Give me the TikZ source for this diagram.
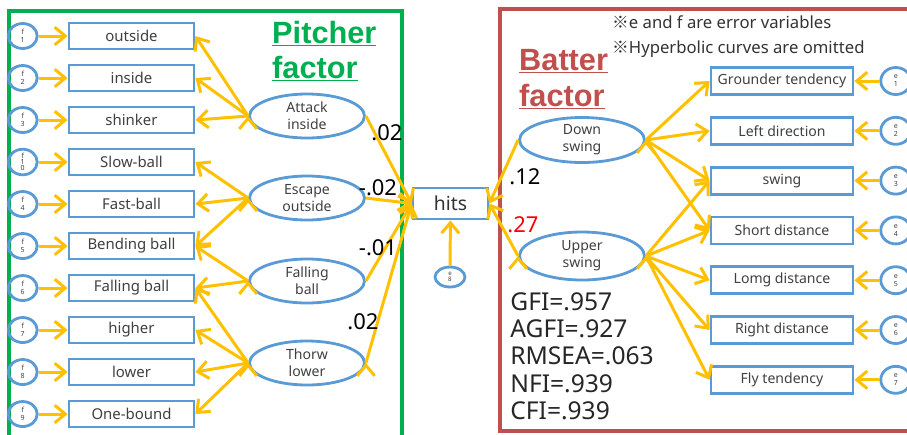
\documentclass[tikz,border=0pt]{standalone}
\usepackage{fontspec}
\setmainfont{Noto Sans}
\newfontfamily\jpfont{Noto Sans CJK JP}
\newfontfamily\titlefont{Liberation Sans}
\usetikzlibrary{positioning,arrows.meta,shapes.geometric}

\definecolor{obsblue}{HTML}{5B9BD5}
\definecolor{pathgold}{HTML}{FFC000}
\definecolor{pitchgreen}{HTML}{00B050}
\definecolor{batred}{HTML}{C0504D}
\definecolor{labgray}{HTML}{404040}

\begin{document}
\begin{tikzpicture}[
        x=0.02cm, y=-0.02cm,
        node distance=0.264cm and 0.58cm,
        obs/.style={rectangle, draw=obsblue, line width=1.6pt, minimum width=2.5cm, minimum height=0.52cm, inner sep=1pt, text=labgray, font=\fontsize{8.5}{9}\selectfont},
        robs/.style={obs, minimum width=2.84cm, minimum height=0.54cm, font=\fontsize{8}{9}\selectfont},
        latent/.style={ellipse, draw=obsblue, line width=1.6pt, minimum width=2.3cm, minimum height=0.88cm, inner sep=0pt, align=center, text=labgray, font=\fontsize{8}{9.5}\selectfont},
        err/.style={ellipse, draw=obsblue, line width=1.6pt, minimum width=0.58cm, minimum height=0.5cm, inner sep=0pt, align=center, text=labgray, font=\fontsize{4}{4.5}\selectfont},
        rerr/.style={err, minimum width=0.6cm, minimum height=0.54cm},
        title/.style={font=\titlefont\fontsize{17.5}{18}\bfseries, anchor=base west},
        link/.style={draw=pathgold, line width=1.7pt, -{Straight Barb[length=6pt, width=10pt]}},
        coef/.style={font=\fontsize{12.5}{12.5}\selectfont}]
    \useasboundingbox (0,0) rectangle (907,434);

    % frames of the two groups
    \draw[pitchgreen, line width=2.4pt] (9,11) rectangle (402,450);
    \draw[batred, line width=2.4pt] (500,9) rectangle (920,431);

    \node[title, text=pitchgreen] (ptitle) at (266,43) {\underline{Pitcher}};
    \node[title, text=pitchgreen] (ptitle2) at (266,78) {\underline{factor}};
    \node[title, text=batred] (btitle) at (513,70) {\underline{Batter}};
    \node[title, text=batred] (btitle2) at (513,106) {\underline{factor}};

    \node[anchor=west, font=\fontsize{9.5}{10}\selectfont, text=black!80] (note1) at (606,22) {{\jpfont ※}e and f are error variables};
    \node[anchor=west, font=\fontsize{9.5}{10}\selectfont, text=black!80] (note2) at (606,49) {{\jpfont ※}Hyperbolic curves are omitted};

    % pitcher side: observed variables
    \node[obs] (outside) at (131.5,36) {outside};
    \node[obs] (inside) [below=of outside] {inside};
    \node[obs] (shinker) [below=of inside] {shinker};
    \node[obs] (slow) [below=of shinker] {Slow-ball};
    \node[obs] (fast) [below=of slow] {Fast-ball};
    \node[obs] (bending) [below=of fast] {Bending ball};
    \node[obs] (falling) [below=of bending] {Falling ball};
    \node[obs] (higher) [below=of falling] {higher};
    \node[obs] (lower) [below=of higher] {lower};
    \node[obs] (onebound) [below=of lower] {One-bound};

    \node[err] (f1) [left=of outside] {f\\1};
    \node[err] (f2) [left=of inside] {f\\2};
    \node[err] (f3) [left=of shinker] {f\\3};
    \node[err, font=\fontsize{4}{3.6}\selectfont] (f10) [left=of slow] {f\\1\\0};
    \node[err] (f4) [left=of fast] {f\\4};
    \node[err] (f5) [left=of bending] {f\\5};
    \node[err] (f6) [left=of falling] {f\\6};
    \node[err] (f7) [left=of higher] {f\\7};
    \node[err] (f8) [left=of lower] {f\\8};
    \node[err] (f9) [left=of onebound] {f\\9};

    % pitcher side: factors
    \node[latent] (attack) at (307,116) {Attack\\inside};
    \node[latent] (escape) at (307,198) {Escape\\outside};
    \node[latent] (fallf) at (307,281) {Falling\\ball};
    \node[latent] (thorw) at (307,363) {Thorw\\lower};

    % outcome
    \node[obs, minimum width=1.5cm, minimum height=0.62cm, font=\fontsize{11}{12}\selectfont, text=black!80] (hits) at (450.5,203.5) {hits};
    \node[err, minimum width=0.6cm, minimum height=0.4cm, font=\fontsize{3.5}{3.5}\selectfont] (e8) at (450,277) {e\\8};

    % batter side: factors
    \node[latent, minimum width=2.5cm, minimum height=0.9cm] (down) at (582,140) {Down\\swing};
    \node[latent, minimum width=2.5cm, minimum height=0.96cm] (upper) at (582,256) {Upper\\swing};

    % batter side: observed variables
    \node[robs] (grounder) at (782,81) {Grounder tendency};
    \node[robs] (leftdir) [below=0.4cm of grounder] {Left direction};
    \node[robs] (swing) [below=0.4cm of leftdir] {swing};
    \node[robs] (short) [below=0.4cm of swing] {Short distance};
    \node[robs] (lomg) [below=0.4cm of short] {Lomg distance};
    \node[robs] (rightdist) [below=0.4cm of lomg] {Right distance};
    \node[robs] (fly) [below=0.4cm of rightdist] {Fly tendency};

    \node[rerr] (e1) [right=0.5cm of grounder] {e\\1};
    \node[rerr] (e2) [right=0.5cm of leftdir] {e\\2};
    \node[rerr] (e3) [right=0.5cm of swing] {e\\3};
    \node[rerr] (e4) [right=0.5cm of short] {e\\4};
    \node[rerr] (e5) [right=0.5cm of lomg] {e\\5};
    \node[rerr] (e6) [right=0.5cm of rightdist] {e\\6};
    \node[rerr] (e7) [right=0.5cm of fly] {e\\7};

    \node[anchor=north west, align=left, font=\fontsize{14}{15.6}\selectfont, text=black!85, inner sep=0pt] (fit) at (510,292)
        {GFI=.957\\AGFI=.927\\RMSEA=.063\\NFI=.939\\CFI=.939};

    % errors into observed variables
    \path[link] (f1) edge (outside) (f2) edge (inside) (f3) edge (shinker)
        (f10) edge (slow) (f4) edge (fast) (f5) edge (bending)
        (f6) edge (falling) (f7) edge (higher) (f8) edge (lower) (f9) edge (onebound);
    \path[link] (e1) edge (grounder) (e2) edge (leftdir) (e3) edge (swing)
        (e4) edge (short) (e5) edge (lomg) (e6) edge (rightdist) (e7) edge (fly);
    \path[link] (e8) edge (hits);

    % loadings
    \path[link] (attack.west) edge (outside.east) (attack.west) edge (inside.east) (attack.west) edge (shinker.east);
    \path[link] (escape.west) edge (slow.east) (escape.west) edge (fast.east) (escape.west) edge (bending.east);
    \path[link] (fallf.west) edge (bending.east) (fallf.west) edge (falling.east);
    \path[link] (thorw.west) edge (falling.east) (thorw.west) edge (higher.east)
        (thorw.west) edge (lower.east) (thorw.west) edge (onebound.east);
    \path[link] (down.east) edge (grounder.west) (down.east) edge (leftdir.west)
        (down.east) edge (swing.west) (down.east) edge (short.west);
    \path[link] (upper.east) edge (swing.west) (upper.east) edge (short.west)
        (upper.east) edge (lomg.west) (upper.east) edge (rightdist.west) (upper.east) edge (fly.west);

    % paths into hits
    \path[link] (attack.east) edge (hits.west) (escape.east) edge (hits.west)
        (fallf.east) edge (hits.west) (thorw.east) edge (hits.west);
    \path[link] (down.west) edge (hits.east) (upper.west) edge (hits.east);

    \node[coef] (c1) at (387,133) {.02};
    \node[coef] (c2) at (378,188) {-.02};
    \node[coef] (c3) at (378,248) {-.01};
    \node[coef] (c4) at (363,322) {.02};
    \node[coef] (c5) at (525,177) {.12};
    \node[coef, text=red] (c6) at (523,225) {.27};
\end{tikzpicture}
\end{document}
